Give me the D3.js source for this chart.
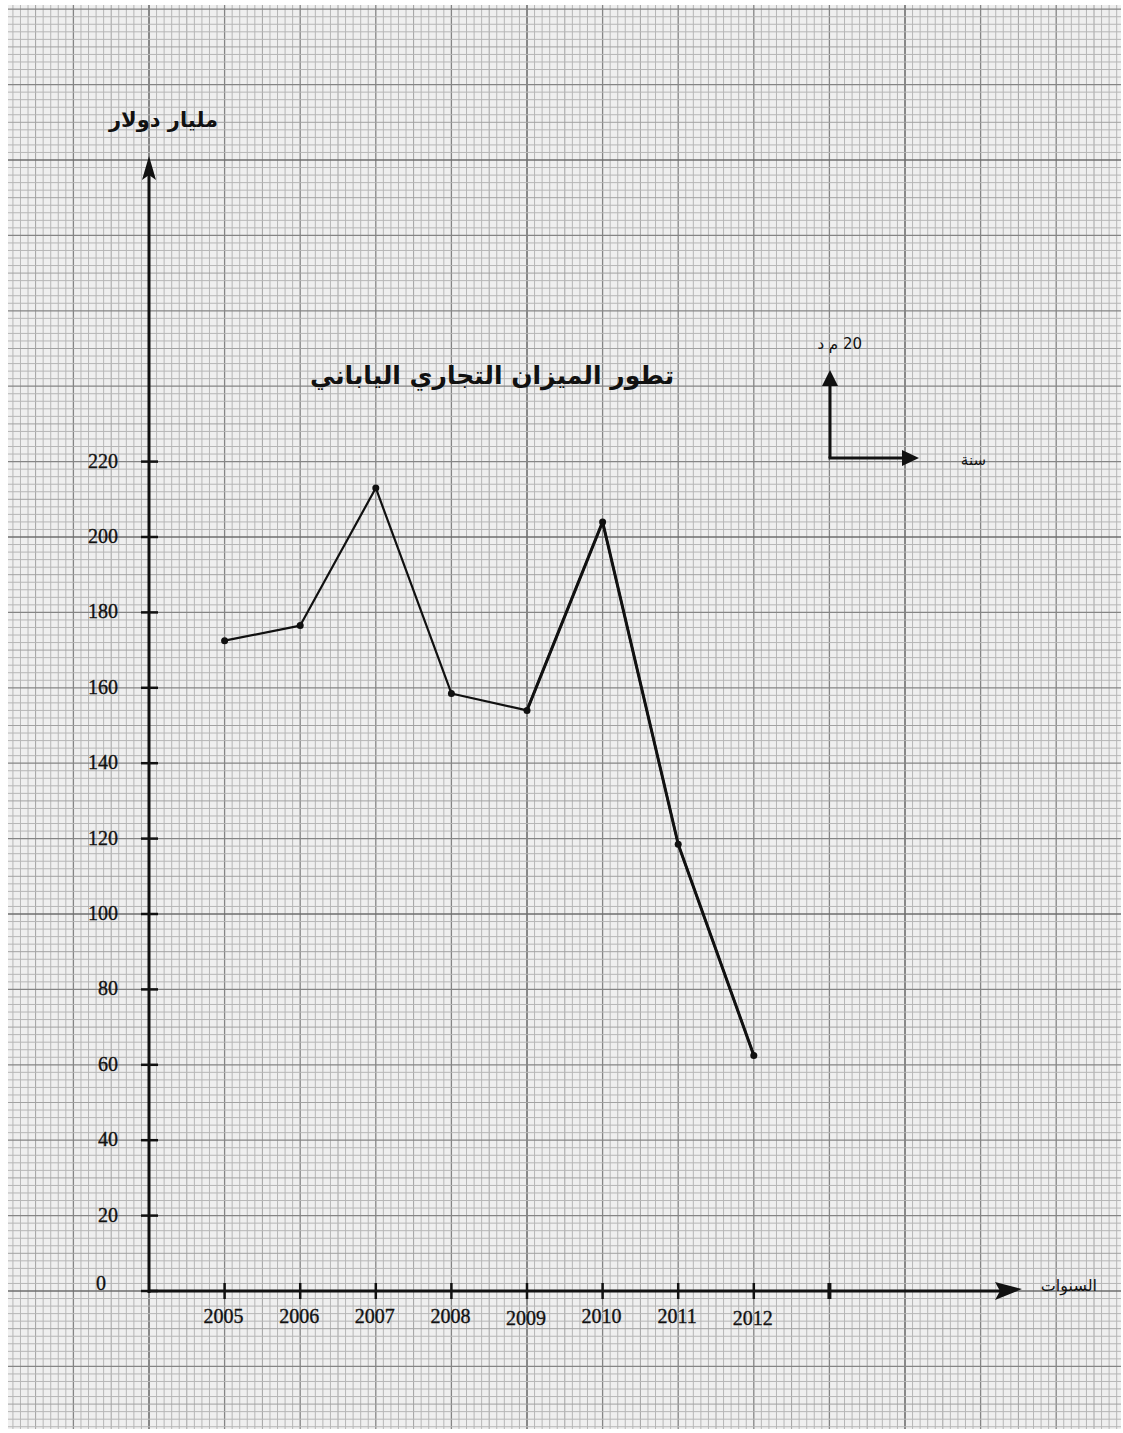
<!DOCTYPE html>
<html>
<head>
<meta charset="utf-8">
<script src="https://cdn.jsdelivr.net/npm/d3@7"></script>
<style>
  html, body { margin: 0; padding: 0; background: #ffffff; }
  svg { display: block; }
</style>
</head>
<body>
<svg id="chart" width="1123" height="1433"></svg>
<script>
// ---- data ----
const years = [2005, 2006, 2007, 2008, 2009, 2010, 2011, 2012];
const balance = [172.5, 176.5, 213, 158.5, 154, 204, 118.5, 62.5];
const yTicks = [0, 20, 40, 60, 80, 100, 120, 140, 160, 180, 200, 220];
const xTickYears = [2005, 2006, 2007, 2008, 2009, 2010, 2011, 2012, 2013];
const xLabelYears = [2005, 2006, 2007, 2008, 2009, 2010, 2011, 2012];
const titleText = "تطور الميزان التجاري الياباني";
const yAxisTitle = "مليار دولار";
const xAxisTitle = "السنوات";
const keyUnitText = "20 م د";
const keyYearText = "سنة";

const svg = d3.select("#chart");

// scales: x in years, y in billions of dollars
const x = d3.scaleLinear().domain([2004, 2005]).range([149, 224.6]);
const y = d3.scaleLinear().domain([0, 20]).range([1291, 1215.6]);

// paper area
const paper = { x0: 8, y0: 5, x1: 1121, y1: 1429 };
svg.append("rect").attr("x", paper.x0).attr("y", paper.y0)
  .attr("width", paper.x1 - paper.x0).attr("height", paper.y1 - paper.y0)
  .attr("fill", "#efefef");

// grid (minor every 0.1 year / 2 units, major every 1 year / 20 units)
const gx = x.invert(paper.x0), gx1 = x.invert(paper.x1);
const gy = y.invert(paper.y1), gy1 = y.invert(paper.y0);
const grid = svg.append("g");
const minorX = d3.range(Math.ceil(gx * 10), Math.floor(gx1 * 10) + 1);
const minorY = d3.range(Math.ceil(gy / 2), Math.floor(gy1 / 2) + 1);
const lvl = k => (((k % 50) + 50) % 50 === 0) ? 3 : ((((k % 10) + 10) % 10 === 0) ? 2 : ((((k % 5) + 5) % 5 === 0) ? 1 : 0));
const col = ["#b6b6b6", "#a2a2a2", "#858585", "#6e6e6e"];
const sw = [1, 1, 1.3, 1.6];
grid.selectAll(".vx").data(minorX).enter().append("line")
  .attr("x1", k => x(k / 10)).attr("x2", k => x(k / 10))
  .attr("y1", paper.y0).attr("y2", paper.y1)
  .attr("stroke", k => col[lvl(k - 20040)]).attr("stroke-width", k => sw[lvl(k - 20040)]);
grid.selectAll(".hy").data(minorY).enter().append("line")
  .attr("y1", k => y(k * 2)).attr("y2", k => y(k * 2))
  .attr("x1", paper.x0).attr("x2", paper.x1)
  .attr("stroke", k => col[lvl(k)]).attr("stroke-width", k => sw[lvl(k)]);

const ink = "#111";

// y axis
const g = svg.append("g");
g.append("line").attr("x1", x(2004)).attr("x2", x(2004))
  .attr("y1", y(0) + 2).attr("y2", 170)
  .attr("stroke", ink).attr("stroke-width", 3);
g.append("path")
  .attr("d", `M${x(2004)},156 L${x(2004) - 7},180 L${x(2004)},175 L${x(2004) + 7},180 Z`)
  .attr("fill", ink);
g.selectAll(".yt").data(yTicks).enter().append("line")
  .attr("x1", x(2004) - 8).attr("x2", x(2004) + 9)
  .attr("y1", d => y(d)).attr("y2", d => y(d))
  .attr("stroke", ink).attr("stroke-width", 2.5);
g.selectAll(".yl").data(yTicks).enter().append("text")
  .attr("x", d => d === 0 ? 106 : 118)
  .attr("y", d => y(d) + (d === 0 ? -1 : 6))
  .attr("text-anchor", "end")
  .attr("font-family", "'Liberation Serif', 'DejaVu Serif', serif")
  .attr("font-size", 20)
  .attr("fill", ink).attr("stroke", ink).attr("stroke-width", 0.35)
  .text(d => d);

// x axis
g.append("line").attr("x1", x(2004)).attr("x2", 1005)
  .attr("y1", y(0)).attr("y2", y(0))
  .attr("stroke", ink).attr("stroke-width", 3);
g.append("path")
  .attr("d", `M1022,${y(0) - 2} L995,${y(0) - 9} L1000,${y(0)} L995,${y(0) + 9} Z`)
  .attr("fill", ink);
g.selectAll(".xt").data(xTickYears).enter().append("line")
  .attr("x1", d => x(d)).attr("x2", d => x(d))
  .attr("y1", y(0) - 8).attr("y2", y(0) + 8)
  .attr("stroke", ink).attr("stroke-width", d => d === 2013 ? 4 : 2.5);
g.selectAll(".xl").data(xLabelYears).enter().append("text")
  .attr("x", d => x(d) - 1)
  .attr("y", d => (d === 2009 || d === 2012) ? 1325 : 1323)
  .attr("text-anchor", "middle")
  .attr("font-family", "'Liberation Serif', 'DejaVu Serif', serif")
  .attr("font-size", 20)
  .attr("fill", ink).attr("stroke", ink).attr("stroke-width", 0.35)
  .text(d => d);

// axis titles (RTL: text-anchor start = right edge)
g.append("text").attr("x", 218).attr("y", 127).attr("text-anchor", "start")
  .attr("direction", "rtl")
  .attr("font-family", "'DejaVu Sans', sans-serif").attr("font-weight", "bold")
  .attr("font-size", 21).attr("fill", ink).text(yAxisTitle);
g.append("text").attr("x", 1097).attr("y", 1291).attr("text-anchor", "start")
  .attr("direction", "rtl")
  .attr("font-family", "'DejaVu Sans', sans-serif")
  .attr("font-size", 16).attr("fill", ink).text(xAxisTitle);

// title
g.append("text").attr("x", 492).attr("y", 384).attr("text-anchor", "middle")
  .attr("direction", "rtl")
  .attr("font-family", "'DejaVu Sans', sans-serif").attr("font-weight", "bold")
  .attr("font-size", 25).attr("fill", ink).text(titleText);

// scale key
const kx = 830, ky = 458;
g.append("line").attr("x1", kx).attr("x2", kx).attr("y1", ky).attr("y2", 382)
  .attr("stroke", ink).attr("stroke-width", 3);
g.append("path").attr("d", `M${kx},370 L${kx - 8},386 L${kx + 8},386 Z`).attr("fill", ink);
g.append("line").attr("x1", kx - 1.5).attr("x2", 906).attr("y1", ky).attr("y2", ky)
  .attr("stroke", ink).attr("stroke-width", 3);
g.append("path").attr("d", `M919,${ky} L902,${ky - 8} L902,${ky + 8} Z`).attr("fill", ink);
g.append("text").attr("x", 862).attr("y", 349).attr("text-anchor", "start")
  .attr("direction", "rtl")
  .attr("font-family", "'DejaVu Sans', sans-serif")
  .attr("font-size", 15).attr("fill", ink).text(keyUnitText);
g.append("text").attr("x", 986).attr("y", 465).attr("text-anchor", "start")
  .attr("direction", "rtl")
  .attr("font-family", "'DejaVu Sans', sans-serif")
  .attr("font-size", 15).attr("fill", ink).text(keyYearText);

// data line
const pts = years.map((yr, i) => ({ yr, v: balance[i] }));
const line = d3.line().x(d => x(d.yr)).y(d => y(d.v));
g.append("path").datum(pts).attr("d", line)
  .attr("fill", "none").attr("stroke", ink).attr("stroke-width", 2.2)
  .attr("stroke-linejoin", "round");
g.append("path").datum(pts.filter(d => d.yr >= 2009)).attr("d", line)
  .attr("fill", "none").attr("stroke", ink).attr("stroke-width", 3)
  .attr("stroke-linejoin", "round");
g.selectAll(".pt").data(pts).enter().append("circle")
  .attr("cx", d => x(d.yr)).attr("cy", d => y(d.v)).attr("r", 3.5)
  .attr("fill", ink);
</script>
</body>
</html>
